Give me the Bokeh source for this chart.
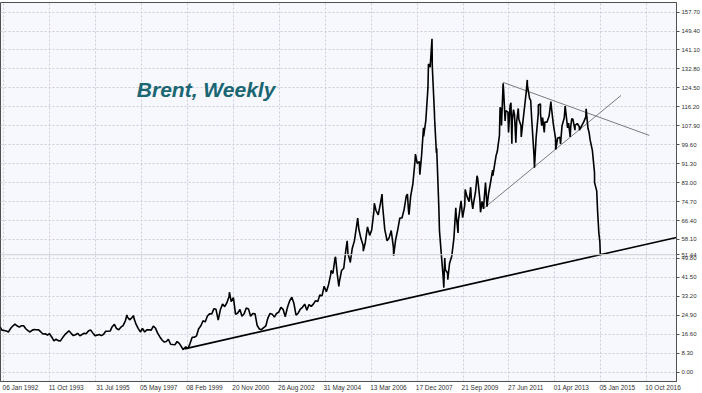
import pandas as pd
from bokeh.plotting import figure
from bokeh.models import (Range1d, FixedTicker, Span, Label, ColumnDataSource, PrintfTickFormatter)
from bokeh.embed import file_html
from bokeh.resources import INLINE

# ---------------- data ----------------
first_month = "1991-11"
p1991 = [20.0, 18.4]
p1992 = [18.2, 18.0, 17.6, 19.1, 20.2, 21.0, 20.3, 19.7, 20.3, 20.3, 19.0, 18.2]
p1993 = [17.6, 18.4, 18.7, 18.6, 18.5, 17.6, 16.7, 16.8, 16.3, 16.8, 15.4, 13.7]
p1994 = [14.4, 13.8, 13.6, 15.0, 16.3, 17.2, 18.1, 17.0, 16.0, 16.4, 17.0, 15.9]
p1995 = [16.5, 17.0, 16.8, 18.0, 18.5, 17.2, 16.0, 16.2, 16.5, 16.0, 16.6, 17.9]
p1996 = [17.9, 18.0, 19.9, 20.9, 19.1, 18.6, 19.7, 20.4, 22.3, 24.1, 22.9, 23.8]
p1997 = [23.6, 20.9, 19.2, 17.6, 19.1, 17.6, 18.5, 18.6, 18.4, 20.2, 19.2, 17.1]
p1998 = [15.4, 14.1, 13.2, 13.4, 14.4, 12.2, 12.1, 12.0, 13.4, 12.6, 11.1, 10.2]
p1999 = [11.1, 10.3, 12.5, 15.3, 15.3, 15.9, 19.0, 20.3, 22.5, 22.0, 24.6, 25.5]
p2000 = [25.5, 27.8, 27.5, 22.8, 27.3, 29.8, 28.7, 30.4, 33.1, 30.9, 32.6, 25.3]
p2001 = [25.9, 27.5, 24.5, 25.6, 28.1, 27.7, 24.5, 25.7, 25.6, 20.5, 18.9, 18.6]
p2002 = [19.5, 20.3, 23.7, 25.7, 25.4, 24.1, 25.7, 26.3, 28.4, 27.5, 24.3, 28.3]
p2003 = [31.2, 32.8, 30.3, 25.0, 25.8, 27.6, 28.4, 29.8, 27.1, 29.6, 28.8, 29.8]
p2004 = [31.3, 30.9, 33.8, 33.4, 37.6, 35.2, 38.2, 42.7, 43.2, 49.8, 43.1, 39.6]
p2005 = [44.5, 45.5, 53.1, 51.9, 48.7, 54.3, 57.5, 64.1, 62.7, 58.5, 55.5, 56.8]
p2006 = [63.6, 59.9, 62.3, 70.4, 70.8, 68.9, 73.7, 73.2, 62.5, 58.0, 58.8, 62.0]
p2007 = [54.5, 58.0, 62.1, 67.5, 67.5, 71.3, 77.2, 70.8, 77.1, 82.3, 92.5, 91.5]
p2008 = [92.2, 94.8, 103.3, 110.2, 124.6, 133.6, 133.9, 113.0, 98.1, 72.3, 53.2, 41.6]
p2009 = [44.9, 43.4, 47.7, 50.8, 58.6, 69.3, 65.8, 73.1, 67.7, 73.2, 77.0, 74.7]
p2010 = [76.2, 73.8, 78.8, 84.8, 75.9, 74.8, 75.6, 77.1, 78.2, 83.5, 86.1, 92.0]
p2011 = [96.5, 103.7, 114.6, 123.3, 114.5, 113.9, 116.7, 110.2, 112.8, 109.6, 110.8, 107.9]
p2012 = [110.7, 119.3, 125.5, 119.8, 110.3, 95.2, 102.6, 113.4, 113.0, 111.5, 109.5, 109.5]
p2013 = [112.3, 116.1, 108.5, 102.3, 102.6, 102.9, 107.9, 111.3, 111.6, 109.1, 107.8, 110.8]
p2014 = [108.1, 108.9, 107.5, 107.8, 109.5, 111.8, 106.8, 101.6, 97.1, 87.4, 79.4, 61.0]

# weekly swings and last bars
swing_dates = ["1996-10-08", "1997-01-10", "1998-12-10", "2000-09-20",
               "2004-08-20", "2004-10-22", "2004-12-08", "2005-04-04", "2005-05-17",
               "2005-08-30", "2005-11-17", "2006-04-21", "2006-08-08", "2006-10-18",
               "2007-01-18", "2007-07-31", "2007-08-22", "2007-11-21",
               "2008-01-22", "2008-03-13", "2008-05-22", "2008-07-11", "2008-08-15",
               "2008-09-11", "2008-10-24", "2008-12-24",
               "2009-01-06", "2009-02-18", "2009-06-11", "2009-07-13", "2009-08-24",
               "2009-10-21", "2010-01-06", "2010-02-05", "2010-04-06", "2010-05-25",
               "2010-07-06", "2010-08-03", "2010-08-24", "2010-11-11", "2010-12-31",
               "2011-02-24", "2011-03-16", "2011-04-08", "2011-05-06", "2011-06-23",
               "2011-07-27", "2011-08-09", "2011-09-01", "2011-10-04", "2011-11-07",
               "2011-12-19", "2012-02-28", "2012-03-13", "2012-04-30", "2012-06-22",
               "2012-08-16", "2012-09-14", "2012-10-02", "2012-11-07", "2013-02-08",
               "2013-04-17", "2013-06-24", "2013-08-28", "2013-10-01", "2013-11-07",
               "2013-11-29", "2014-01-13", "2014-03-17", "2014-06-19", "2014-07-31",
               "2014-08-13", "2014-10-16", "2014-11-28", "2014-12-29", "2015-01-05"]
swing_prices = [25.0, 24.8, 9.8, 35.0,
                44.5, 50.5, 37.5, 57.5, 48.0,
                67.5, 53.0, 74.0, 78.0, 57.5,
                51.0, 78.0, 69.0, 95.5,
                86.5, 107.0, 135.0, 146.0, 112.0,
                96.0, 62.0, 37.0,
                50.0, 40.5, 72.0, 61.0, 75.0,
                80.0, 81.0, 71.5, 86.0, 70.0,
                71.5, 83.0, 72.5, 88.5, 95.0,
                116.0, 108.0, 126.5, 110.0, 105.0,
                118.0, 100.0, 115.0, 100.5, 115.5,
                103.0, 123.0, 128.0, 119.0, 89.5,
                117.0, 117.5, 108.0, 105.0, 118.5,
                97.5, 100.0, 116.5, 107.0, 103.0,
                111.0, 106.0, 106.0, 115.3, 105.0,
                102.0, 83.0, 70.2, 57.3, 51.44]
last_price = 51.44

# trend lines
support_dates = ["1998-12-28", "2017-12-12"]
support_prices = [10.2, 59.0]
upper_dates = ["2011-04-08", "2016-11-24"]
upper_prices = [126.9, 103.7]
lower_dates = ["2010-07-04", "2015-10-23"]
lower_prices = [71.6, 121.2]

# axes
y_ticks = [0.0, 8.3, 16.6, 24.9, 33.2, 41.5, 49.8, 58.1, 66.4, 74.7, 83.0, 91.3,
           99.6, 107.9, 116.2, 124.5, 132.8, 141.1, 149.4, 157.7]
x_tick_dates = ["1992-01-06", "1993-10-11", "1995-07-31", "1997-05-05", "1999-02-08",
                "2000-11-20", "2002-08-26", "2004-05-31", "2006-03-13", "2007-12-17",
                "2009-09-21", "2011-06-27", "2013-04-01", "2015-01-05", "2016-10-10"]
x_tick_labels = ["06 Jan 1992", "11 Oct 1993", "31 Jul 1995", "05 May 1997", "08 Feb 1999",
                 "20 Nov 2000", "26 Aug 2002", "31 May 2004", "13 Mar 2006", "17 Dec 2007",
                 "21 Sep 2009", "27 Jun 2011", "01 Apr 2013", "05 Jan 2015", "10 Oct 2016"]
x_start, x_end = "1991-11-25", "2017-12-12"
y_start, y_end = -4.1, 161.9


def ms(d):
    return int(pd.Timestamp(d).value // 1_000_000)


monthly = (p1991 + p1992 + p1993 + p1994 + p1995 + p1996 + p1997 + p1998 + p1999 + p2000 +
           p2001 + p2002 + p2003 + p2004 + p2005 + p2006 + p2007 + p2008 + p2009 + p2010 +
           p2011 + p2012 + p2013 + p2014)
months = pd.period_range(first_month, periods=len(monthly), freq="M").to_timestamp() + pd.Timedelta(days=14)
df = pd.DataFrame({"d": list(months) + [pd.Timestamp(d) for d in swing_dates],
                   "v": monthly + swing_prices}).sort_values("d")
src = ColumnDataSource(dict(x=[ms(d) for d in df["d"]], y=list(df["v"])))

FONT = "Liberation Sans"
W, H = 702, 393
FRAME_W = 678  # approximate frame width in px (used to left-align the date labels)

p = figure(width=W, height=H, x_range=Range1d(ms(x_start), ms(x_end)),
           y_range=Range1d(y_start, y_end), y_axis_location="right",
           toolbar_location=None, output_backend="svg",
           min_border_left=0, min_border_top=2, min_border_right=0, min_border_bottom=0)
p.background_fill_color = "#F7F8FE"
p.border_fill_color = "white"
p.outline_line_color = "#505050"
p.outline_line_width = 1

# grid at the dates; date labels start just right of each grid line
xt = FixedTicker(ticks=[ms(d) for d in x_tick_dates])
p.xgrid.ticker = xt
ms_per_px = (ms(x_end) - ms(x_start)) / FRAME_W
shift = int(17 * ms_per_px)
lab_ticks = [ms(d) + shift for d in x_tick_dates]
p.xaxis.ticker = FixedTicker(ticks=lab_ticks)
p.xaxis.major_label_overrides = {t: l for t, l in zip(lab_ticks, x_tick_labels)}
p.xaxis.major_tick_line_color = None
p.xaxis.major_tick_out = 0
p.xaxis.major_label_standoff = 2
p.xaxis.major_label_text_font_size = "6.5px"

yt = FixedTicker(ticks=y_ticks)
p.ygrid.ticker = yt
p.yaxis.ticker = FixedTicker(ticks=y_ticks + [last_price])
p.yaxis.formatter = PrintfTickFormatter(format="%.2f")
p.yaxis.major_label_text_font_size = "6px"
p.yaxis.major_label_standoff = 2
p.yaxis.major_tick_line_color = "#505050"
p.yaxis.major_tick_out = 3

for ax in (p.xaxis, p.yaxis):
    ax.axis_line_color = "#505050"
    ax.major_tick_in = 0
    ax.minor_tick_line_color = None
    ax.major_label_text_font = FONT
    ax.major_label_text_color = "#303030"
for g in (p.xgrid, p.ygrid):
    g.grid_line_color = "#CDCDD5"
    g.grid_line_dash = "2 2"
    g.grid_line_width = 1

p.add_layout(Span(location=last_price, dimension="width", line_color="#D0D0D0", line_width=1))

p.line([ms(d) for d in upper_dates], upper_prices, line_color="#7A7A7A", line_width=1)
p.line([ms(d) for d in lower_dates], lower_prices, line_color="#7A7A7A", line_width=1)
p.line("x", "y", source=src, line_color="black", line_width=1.6)
p.line([ms(d) for d in support_dates], support_prices, line_color="black", line_width=1.6)

p.add_layout(Label(x=ms("1997-02-25"), y=123.8, text="Brent, Weekly",
                   text_font=FONT, text_font_style="bold italic",
                   text_font_size="21px", text_color="#1A6672", text_baseline="alphabetic"))

open("out.html", "w").write(file_html(p, INLINE))
